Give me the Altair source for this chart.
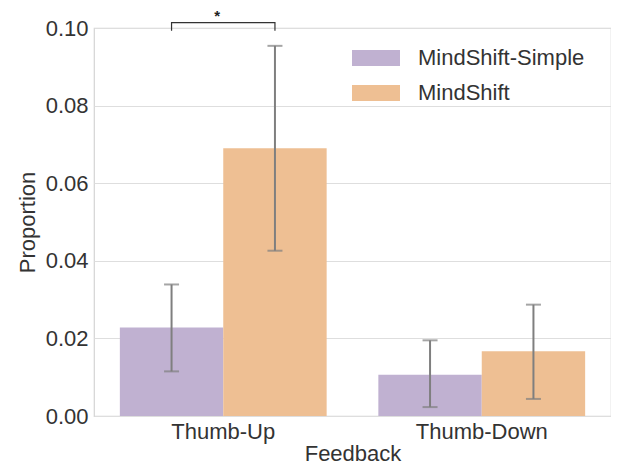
import altair as alt
import pandas as pd

feedback = ["Thumb-Up", "Thumb-Up", "Thumb-Down", "Thumb-Down"]
model = ["MindShift-Simple", "MindShift", "MindShift-Simple", "MindShift"]
mean = [0.0228, 0.069, 0.0106, 0.0167]
lo = [0.0115, 0.0426, 0.0023, 0.0044]
hi = [0.0339, 0.0954, 0.0195, 0.0287]

cat_order = ["Thumb-Up", "Thumb-Down"]
model_order = ["MindShift-Simple", "MindShift"]
colors = ["#c0b1d1", "#eebf93"]

# significance bracket
br_feedback = ["Thumb-Up", "Thumb-Up", "Thumb-Up", "Thumb-Up"]
br_model = ["MindShift-Simple", "MindShift-Simple", "MindShift", "MindShift"]
br_y = [0.0993, 0.1014, 0.1014, 0.0993]
br_order = [0, 1, 2, 3]
star_label = ["*"]
star_y = [0.1050]

df = pd.DataFrame({"Feedback": feedback, "Model": model, "mean": mean, "lo": lo, "hi": hi})
br = pd.DataFrame({"Feedback": br_feedback, "Model": br_model, "y": br_y, "o": br_order})
star = pd.DataFrame({"Feedback": ["Thumb-Up"], "t": star_label, "y": star_y})

FONT = "Liberation Sans"
TXT = "#333333"

x = alt.X("Feedback:N", sort=cat_order,
          scale=alt.Scale(paddingInner=0.2, paddingOuter=0.1),
          axis=alt.Axis(title="Feedback", labelAngle=0, ticks=False, domain=False,
                        labelPadding=5, titlePadding=1, grid=False))
xo = alt.XOffset("Model:N", sort=model_order, scale=alt.Scale(domain=model_order, paddingInner=0, paddingOuter=0))
yscale = alt.Scale(domain=[0, 0.1], nice=False)

bars = alt.Chart(df).mark_bar().encode(
    x=x, xOffset=xo,
    y=alt.Y("mean:Q", scale=yscale,
            axis=alt.Axis(title="Proportion", values=[0, 0.02, 0.04, 0.06, 0.08, 0.1],
                          format=".2f", ticks=False, domain=False, labelPadding=6,
                          titlePadding=6, gridColor="#dedede")),
    color=alt.Color("Model:N", sort=model_order,
                    scale=alt.Scale(domain=model_order, range=colors),
                    legend=alt.Legend(title=None, orient="none", legendX=258, legendY=6,
                                      symbolType="M-1,-0.33L1,-0.33L1,0.33L-1,0.33Z",
                                      symbolSize=2304, symbolStrokeWidth=0,
                                      labelFontSize=22, labelFont=FONT, labelColor=TXT,
                                      labelLimit=400,
                                      labelOffset=18, rowPadding=-17)),
)

err = alt.Chart(df).mark_rule(color="#7f7f7f", strokeWidth=2).encode(
    x=x, xOffset=xo, y=alt.Y("lo:Q", scale=yscale), y2="hi:Q")
cap_lo = alt.Chart(df).mark_tick(color="#7f7f7f", thickness=2, size=15).encode(
    x=x, xOffset=xo, y=alt.Y("lo:Q", scale=yscale))
cap_hi = alt.Chart(df).mark_tick(color="#7f7f7f", thickness=2, size=15).encode(
    x=x, xOffset=xo, y=alt.Y("hi:Q", scale=yscale))

bracket = alt.Chart(br).mark_line(color="#333333", strokeWidth=1.2).encode(
    x=x, xOffset=xo, y=alt.Y("y:Q", scale=yscale), order="o:Q")
stars = alt.Chart(star).mark_text(fontSize=15, font=FONT, fontWeight="bold", color="#222222",
                                  baseline="top", dx=-6).encode(
    x=x, y=alt.Y("y:Q", scale=yscale), text="t:N")

chart = alt.layer(bars, err, cap_lo, cap_hi, bracket, stars).properties(
    width=517, height=388,
    autosize=alt.AutoSizeParams(type="none"),
    padding={"left": 86, "top": 20, "right": 0, "bottom": 51},
).configure_view(stroke="#d4d4d4", strokeWidth=1.2).configure_axis(
    labelFont=FONT, titleFont=FONT, labelFontSize=22, titleFontSize=22,
    labelColor=TXT, titleColor=TXT, titleFontWeight="normal"
)

chart.save("out.html", embed_options={"renderer": "svg", "actions": False})
